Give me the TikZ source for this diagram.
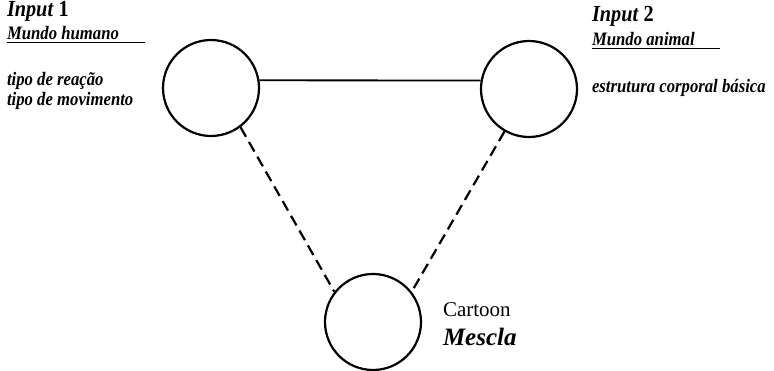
\documentclass[tikz,border=0pt]{standalone}
\usepackage{fontspec}
\setmainfont{Liberation Serif}
\newfontfamily\narrowserif{Liberation Serif}[FakeStretch=0.88]
\begin{document}
\begin{tikzpicture}[x=1pt,y=-1pt,
  circ/.style={draw,line width=2.2pt,circle,minimum size=96pt,inner sep=0pt},
  dashln/.style={line width=2.2pt,dash pattern=on 11pt off 6pt},
  solidln/.style={line width=1.8pt},
  txt/.style={anchor=base west,inner sep=0pt,outer sep=0pt},
  head/.style={txt,font=\narrowserif\fontsize{23}{26}\selectfont\bfseries},
  itl/.style={txt,font=\narrowserif\fontsize{19}{22}\selectfont\bfseries\itshape},
  uline/.style={line width=1.3pt}]
\useasboundingbox (0,0) rectangle (774,371);
\node[circ] (c1) at (211,88) {};
\node[circ] (c2) at (529,89) {};
\node[circ] (c3) at (373,322) {};
\draw[solidln] (c1.9) -- (c2.170);
\draw[dashln] (c1.-53) -- (c3.142);
\draw[dashln] (c2.-120) -- (c3.38);
% left texts
\node[head] (in1) at (7,17) {\textit{Input} 1};
\node[itl] (mh) at (7,40) {Mundo humano};
\draw[uline] ([yshift=-2.5pt]mh.base west) -- ++(138,0);
\node[itl] (tr) at (7,86) {tipo de reação};
\node[itl] (tm) at (7,106) {tipo de movimento};
% right texts
\node[head] (in2) at (592,22) {\textit{Input} 2};
\node[itl] (ma) at (592,46) {Mundo animal};
\draw[uline] ([yshift=-2.5pt]ma.base west) -- ++(128,0);
\node[itl] (ec) at (592,93) {estrutura corporal básica};
% bottom texts
\node[txt,font=\fontsize{21}{24}\selectfont] (ct) at (443,317) {Cartoon};
\node[txt,font=\fontsize{25}{28}\selectfont\bfseries\itshape] (ms) at (443,345) {Mescla};
\end{tikzpicture}
\end{document}
